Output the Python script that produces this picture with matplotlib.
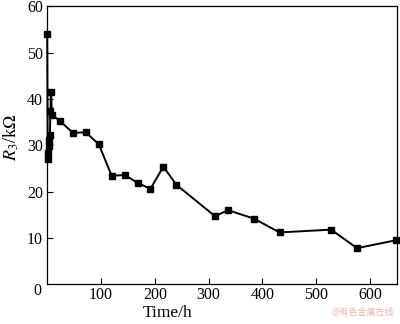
import matplotlib
matplotlib.use('Agg')
from matplotlib import pyplot as plt

plt.rcParams['font.family'] = ['Liberation Serif', 'DejaVu Serif']
plt.rcParams['mathtext.fontset'] = 'stix'

# data
time_h = [0, 1, 2, 3, 4, 5, 6, 7, 9, 24, 48, 72, 96, 120, 144, 168, 192, 216, 240,
          312, 336, 384, 432, 528, 576, 648]
r3_kohm = [54.0, 27.0, 28.3, 29.9, 31.1, 32.3, 37.5, 41.6, 36.6, 35.2, 32.7, 32.8, 30.2,
           23.4, 23.6, 21.9, 20.6, 25.4, 21.5, 14.7, 16.0, 14.2, 11.2, 11.8, 7.8, 9.5]
x_ticks = [100, 200, 300, 400, 500, 600]
y_ticks = [10, 20, 30, 40, 50, 60]

fig = plt.figure(figsize=(4, 3.24), dpi=100)
ax = fig.add_axes([0.118, 0.1225, 0.874, 0.858])

ax.plot(time_h, r3_kohm, color='black', linewidth=1.4, marker='s', markersize=5,
        clip_on=False, zorder=3)

ax.set_xlim(0, 650)
ax.set_ylim(0, 60)
ax.set_xticks(x_ticks)
ax.set_yticks(y_ticks)
ax.tick_params(direction='in', length=4, width=0.8, labelsize=11.5)
ax.tick_params(axis='x', pad=2)
ax.tick_params(axis='y', pad=3)
for s in ax.spines.values():
    s.set_linewidth(0.9)

# shared origin label
ax.text(-0.017, -0.025, '0', transform=ax.transAxes, fontsize=11.5,
        ha='right', va='center')

ax.set_xlabel('Time/h', fontsize=12.5, va='center')
ax.xaxis.set_label_coords(0.343, -0.102)
ax.set_ylabel(r'$R_3$/k$\Omega$', fontsize=13, va='center')
ax.yaxis.set_label_coords(-0.103, 0.53)

fig.text(0.985, 0.035, '@有色金属在线', color='#eeb4b4', fontsize=6.5,
         family=['Noto Sans CJK SC', 'DejaVu Sans'], ha='right', va='center')

plt.savefig('out.png', dpi=100)
